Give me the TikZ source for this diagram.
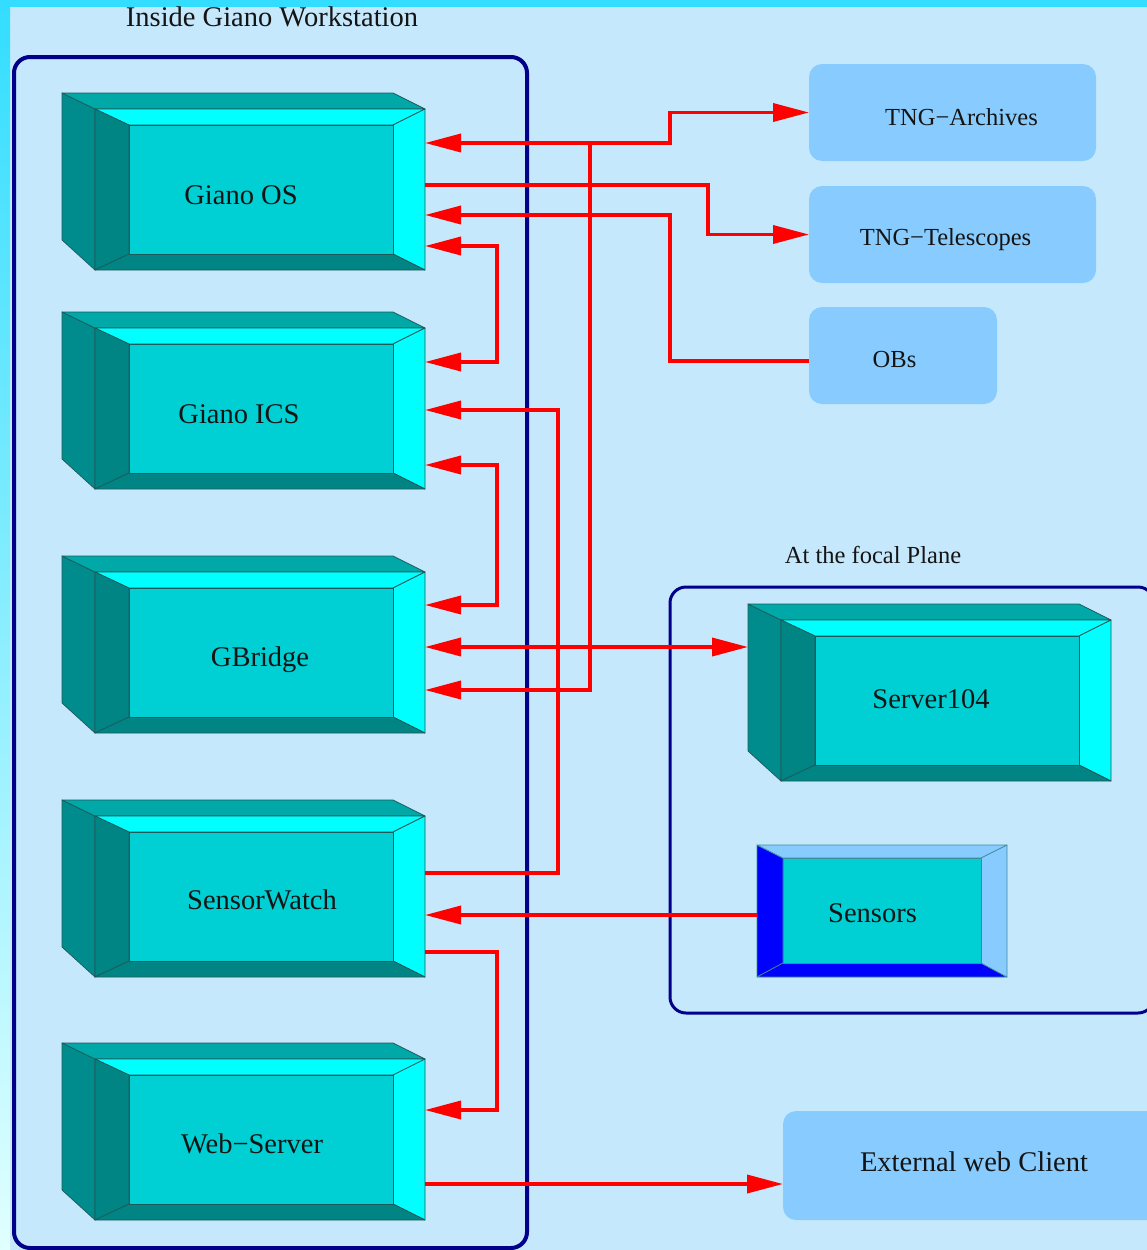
\documentclass[tikz,border=0pt]{standalone}
\usepackage{fontspec}
\setmainfont{Liberation Serif}
\usetikzlibrary{arrows.meta}
\definecolor{bg}{HTML}{C6E8FC}
\definecolor{topbar}{HTML}{33DDFF}
\definecolor{navy}{HTML}{00008A}
\definecolor{panel}{HTML}{88CCFF}
\definecolor{face}{HTML}{00D0D4}
\definecolor{bright}{HTML}{00FFFF}
\definecolor{topface}{HTML}{00A8A8}
\definecolor{sideface}{HTML}{008C8C}
\definecolor{darkbev}{HTML}{008484}
\definecolor{edge}{HTML}{1F5A5A}
\definecolor{sblue}{HTML}{0000FF}
\definecolor{sedge}{HTML}{3C8C9C}
\tikzset{
  facepart/.style={fill=#1, draw=edge, line width=0.7pt, line join=round},
  sfacepart/.style={fill=#1, draw=sedge, line width=0.7pt, line join=round},
  frame/.style={draw=none, fill=none, inner sep=0pt, outer sep=0pt, rectangle},
  panelbox/.style={rectangle, fill=panel, draw=none, rounded corners=13pt, inner sep=0pt, outer sep=0pt},
  container/.style={rectangle, draw=navy, fill=none, rounded corners=16pt, inner sep=0pt, outer sep=0pt},
  bigtxt/.style={anchor=base, inner sep=0pt, font=\fontsize{28.5}{30}\selectfont, text=black!92},
  smalltxt/.style={anchor=base, inner sep=0pt, font=\fontsize{24.5}{26}\selectfont, text=black!92},
  conn/.style={draw=red, line width=3.6pt, line join=miter},
  arr/.style={conn, -{Triangle[length=36pt, width=18pt]}},
  arrtwo/.style={conn, {Triangle[length=36pt, width=18pt]}-{Triangle[length=36pt, width=18pt]}},
}
% 3D box: name, x of back-left, y of top
\newcommand{\cubebox}[3]{%
  \begin{scope}[shift={(#2,#3)}]
    \path[facepart=sideface] (0,0) -- (33,16) -- (33,177) -- (0,147) -- cycle;
    \path[facepart=topface] (0,0) -- (331,0) -- (363,16) -- (33,16) -- cycle;
    \path[facepart=bright] (33,16) -- (363,16) -- (331,32) -- (67,32) -- cycle;
    \path[facepart=bright] (363,16) -- (363,177) -- (331,161) -- (331,32) -- cycle;
    \path[facepart=darkbev] (33,16) -- (67,32) -- (67,161) -- (33,177) -- cycle;
    \path[facepart=darkbev] (33,177) -- (67,161) -- (331,161) -- (363,177) -- cycle;
    \path[facepart=face] (67,32) rectangle (331,161);
  \end{scope}
  \node[frame, minimum width=363pt, minimum height=177pt] (#1) at (#2+181.5,#3+88.5) {};
}
\begin{document}
\begin{tikzpicture}[x=1pt, y=-1pt]
\useasboundingbox (0,0) rectangle (1147,1250);
\begin{scope}
\clip (0,0) rectangle (1147,1250);
% background
\fill[bg] (0,0) rectangle (1147,1250);
\shade[top color=topbar, bottom color=white!88!cyan] (0,0) rectangle (10,1250);
\fill[topbar] (0,0) rectangle (1147,7);

% containers
\node[container, line width=4pt, minimum width=513pt, minimum height=1191pt] (wsframe) at (270.5,652.5) {};
\node[container, line width=3pt, minimum width=484pt, minimum height=426pt] (fpframe) at (912,800) {};

% right panels
\node[panelbox, minimum width=287pt, minimum height=97pt] (arch) at (952.5,112.5) {};
\node[panelbox, minimum width=287pt, minimum height=97pt] (tel) at (952.5,234.5) {};
\node[panelbox, minimum width=188pt, minimum height=97pt] (obs) at (903,355.5) {};
\node[panelbox, minimum width=377pt, minimum height=109pt] (ext) at (971.5,1165.5) {};

% 3D boxes
\cubebox{os}{62}{93}
\cubebox{ics}{62}{312}
\cubebox{gb}{62}{556}
\cubebox{sw}{62}{800}
\cubebox{ws}{62}{1043}
\cubebox{srv}{748}{604}

% Sensors bevel box
\path[sfacepart=sblue] (757,845) -- (783,858) -- (783,963) -- (757,977) -- cycle;
\path[sfacepart=sblue] (757,977) -- (783,963) -- (981,963) -- (1007,977) -- cycle;
\path[sfacepart=panel] (757,845) -- (1007,845) -- (981,858) -- (783,858) -- cycle;
\path[sfacepart=panel] (1007,845) -- (1007,977) -- (981,963) -- (981,858) -- cycle;
\path[sfacepart=face] (783,858) rectangle (981,963);
\node[frame, minimum width=250pt, minimum height=132pt] (sens) at (882,911) {};

% connectors
\coordinate (j1) at (590,143);
\draw[arr] (j1) -- (os.east |- j1);
\draw[arr] (j1) -- (670,143) -- (670,112.5) -- (arch.west);
\draw[arr] (j1) -- (590,690) -- (gb.east |- 0,690);
\draw[arr] (os.east |- 0,185) -- (708,185) -- (708,234.5) -- (tel.west);
\draw[arr] (obs.west |- 0,361) -- (670,361) -- (670,215) -- (os.east |- 0,215);
\draw[arrtwo] (os.east |- 0,246) -- (497,246) -- (497,362) -- (ics.east |- 0,362);
\draw[arr] (sw.east |- 0,873) -- (558,873) -- (558,410) -- (ics.east |- 0,410);
\draw[arrtwo] (ics.east |- 0,465) -- (497,465) -- (497,605) -- (gb.east |- 0,605);
\draw[arrtwo] (gb.east |- 0,647) -- (srv.west |- 0,647);
\draw[arr] (sens.west |- 0,915) -- (sw.east |- 0,915);
\draw[arr] (sw.east |- 0,952) -- (497,952) -- (497,1110) -- (ws.east |- 0,1110);
\draw[arr] (ws.east |- 0,1184) -- (ext.west |- 0,1184);

% texts
\node[bigtxt] (lws) at (272,27) {Inside Giano Workstation};
\node[smalltxt] (lfp) at (873,563) {At the focal Plane};
\node[bigtxt] (tos) at (241,204) {Giano OS};
\node[bigtxt] (tics) at (239,423) {Giano ICS};
\node[bigtxt] (tgb) at (260,666) {GBridge};
\node[bigtxt] (tsw) at (262,909) {SensorWatch};
\node[bigtxt] (tws) at (252,1153) {Web−Server};
\node[bigtxt] (tsrv) at (931,708) {Server104};
\node[bigtxt] (tsens) at (872.5,922) {Sensors};
\node[bigtxt] (text) at (974,1171) {External web Client};
\node[smalltxt] (tarch) at (961.5,125) {TNG−Archives};
\node[smalltxt] (ttel) at (945.5,245) {TNG−Telescopes};
\node[smalltxt] (tobs) at (894.5,367) {OBs};
\end{scope}
\end{tikzpicture}
\end{document}
